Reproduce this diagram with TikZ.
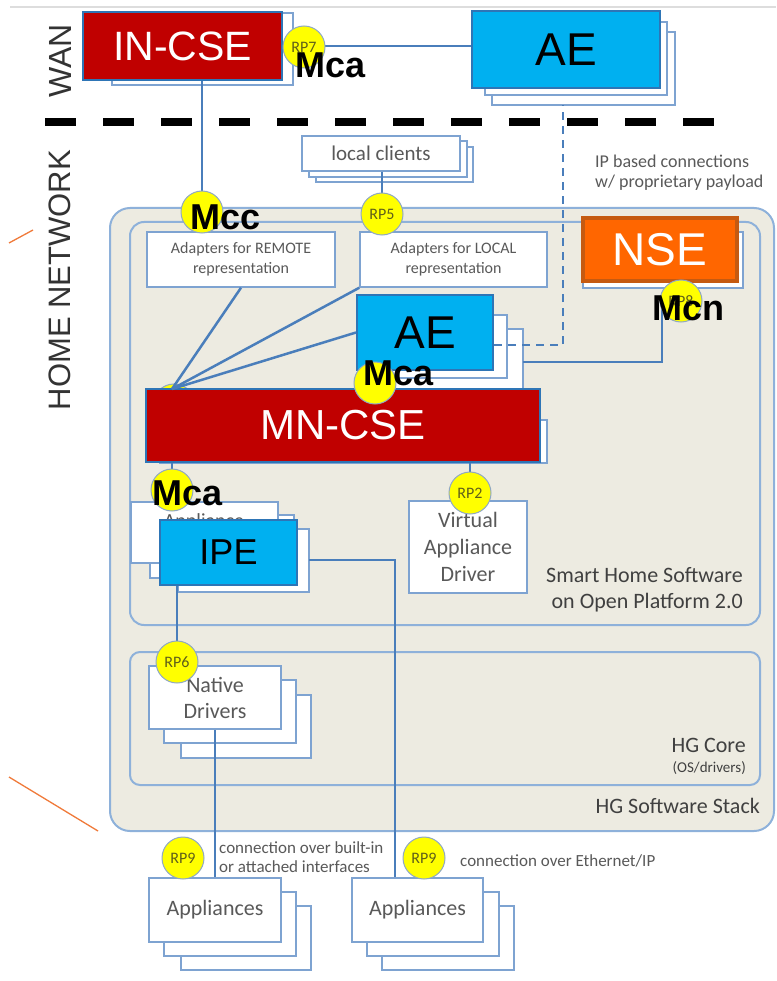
\documentclass[tikz,border=0pt]{standalone}
\usepackage{fontspec}
\setmainfont{Liberation Sans}
\newfontfamily\calib{Carlito}
\usetikzlibrary{calc}
\definecolor{cseRed}{HTML}{C00000}
\definecolor{aeBlue}{HTML}{00B0F0}
\definecolor{edgeBlue}{HTML}{2E75B6}
\definecolor{stackBlue}{HTML}{7EA3D1}
\definecolor{lineBlue}{HTML}{4A7EBB}
\definecolor{frameBlue}{HTML}{8EB1DA}
\definecolor{beige}{HTML}{EDEBE1}
\definecolor{rpYellow}{HTML}{FFFF00}
\definecolor{rpEdge}{HTML}{8FA8C4}
\definecolor{rpText}{HTML}{5F5F1A}
\definecolor{txtGray}{HTML}{595959}
\definecolor{txtDark}{HTML}{404040}
\definecolor{labGray}{HTML}{333333}
\definecolor{nseOrange}{HTML}{FF6600}
\definecolor{nseEdge}{HTML}{C55A11}
\definecolor{orangeLn}{HTML}{F07A3A}
\definecolor{topGray}{HTML}{DDDDDD}
\newcommand\fsz[2]{\fontsize{#1}{#2}\selectfont}
\tikzset{
  conn/.style={draw=lineBlue, line width=2.5pt},
  backbox/.style={draw=stackBlue, fill=white, line width=1.5pt},
  whitebox/.style={draw=stackBlue, fill=white, line width=1.5pt, inner sep=0pt, align=center, text=txtGray},
  redcse/.style={draw=edgeBlue, fill=cseRed, line width=2pt, text=white, inner sep=0pt},
  blueae/.style={draw=edgeBlue, fill=aeBlue, line width=2pt, text=black, inner sep=0pt},
  rpc/.style={circle, draw=rpEdge, fill=rpYellow, line width=1pt, minimum size=42pt, inner sep=0pt, text=rpText, font=\calib\fsz{16}{16}},
  mref/.style={font=\bfseries\fsz{36}{36}, anchor=base west, inner sep=0pt, text=black},
  frame/.style={draw=frameBlue, line width=2pt, fill=beige},
  note/.style={inner sep=0pt, text=txtGray, align=left},
}
\begin{document}
\begin{tikzpicture}[x=1pt,y=-1pt]
\useasboundingbox (0,0) rectangle (776,981);
\fill[white] (0,0) rectangle (776,981);

% top rule and orange marks
\draw[topGray, line width=1.2pt] (10,7) -- (776,7);
\draw[orangeLn, line width=1.3pt] (9,243) -- (33,230);
\draw[orangeLn, line width=1.3pt] (9,777) -- (98,831);

% zone labels
\node[rotate=90, font=\fsz{32}{32}, text=labGray, inner sep=0pt] (wan) at (60,61) {WAN};
\node[rotate=90, font=\fsz{31}{31}, text=labGray, inner sep=0pt] (home) at (60,280) {HOME NETWORK};

% WAN / home boundary
\draw[line width=8pt, dash pattern=on 31pt off 27pt] (45,122) -- (718,122);

% frames
\draw[frame, rounded corners=20pt] (110,208) rectangle (774,831);
\draw[frame, rounded corners=14pt] (130,222) rectangle (760,625);
\draw[frame, rounded corners=10pt] (130,652) rectangle (760,785);
\node[anchor=east, inner sep=0pt, align=right, font=\calib\fsz{22}{26}, text=txtDark] (shs) at (743,590) {Smart Home Software\\on Open Platform 2.0};
\node[anchor=base east, inner sep=0pt, font=\calib\fsz{22}{22}, text=txtDark] (hgcore) at (746,752) {HG Core};
\node[anchor=base east, inner sep=0pt, font=\calib\fsz{15}{15}, text=txtDark] (osdrv) at (746,772) {(OS/drivers)};
\node[anchor=base east, inner sep=0pt, font=\calib\fsz{22}{22}, text=txtDark] (hgss) at (760,813) {HG Software Stack};

% circle centres
\coordinate (c7) at (304,47);
\coordinate (cmcc) at (202,212);
\coordinate (crp5) at (382,214);
\coordinate (crp8) at (681,301);
\coordinate (cmca1) at (375,383);
\coordinate (cmca2) at (172,490);
\coordinate (crp2) at (470,493);
\coordinate (crp6) at (177,662);
\coordinate (conv) at (172,389);
\coordinate (ipbend) at (563,345);
\coordinate (aetopback) at (563,105);
\coordinate (nsebend) at (662,362);
\coordinate (aemidback) at (523,362);
\coordinate (applback) at (309,560);
\coordinate (ipebend) at (395,560);

% hidden reference point behind MN-CSE
\node[rpc] (rphid) at (174,405) {};

% IN-CSE
\draw[backbox] (112,13) rectangle (293,85);
\node[redcse, minimum width=199pt, minimum height=68pt, font=\fsz{41}{41}] (incse) at (182.5,46) {IN-CSE};
% AE (WAN)
\draw[backbox] (492,32) rectangle (675,105);
\draw[backbox] (485,22) rectangle (667,95);
\node[blueae, minimum width=188pt, minimum height=77pt, font=\fsz{46}{46}] (aetop) at (566,49.5) {AE};
% local clients
\draw[backbox] (316,147) rectangle (473,182);
\draw[backbox] (309,141) rectangle (467,177);
\node[whitebox, minimum width=158pt, minimum height=35pt, font=\calib\fsz{21}{21}] (lc) at (381,153.5) {local clients};
% adapters
\node[whitebox, minimum width=188pt, minimum height=55pt, font=\calib\fsz{16}{20}] (adrem) at (241,259.5) {Adapters for REMOTE\\representation};
\node[whitebox, minimum width=187pt, minimum height=55pt, font=\calib\fsz{16}{20}] (adloc) at (453.5,259.5) {Adapters for LOCAL\\representation};
% NSE
\draw[backbox] (583,232) rectangle (743,288);
\node[draw=nseEdge, fill=nseOrange, line width=3.5pt, minimum width=154pt, minimum height=63pt, text=white, font=\fsz{46}{46}, inner sep=0pt] (nse) at (660,249.5) {NSE};
% AE (home)
\draw[backbox] (387,329) rectangle (523,395);
\draw[backbox] (371,315) rectangle (507,378);
\node[blueae, minimum width=136pt, minimum height=75pt, font=\fsz{46}{46}] (aemid) at (425,332.5) {AE};
% MN-CSE
\draw[backbox] (160,420) rectangle (547,463);
\node[redcse, minimum width=394pt, minimum height=73pt, font=\fsz{42}{42}] (mncse) at (343,425.5) {MN-CSE};
% Appliance adapters + IPE
\draw[backbox] (178,529) rectangle (309,592);
\draw[backbox] (150,515) rectangle (294,578);
\node[whitebox, minimum width=147pt, minimum height=61pt] (appl) at (204.5,532.5) {};
\node[anchor=base, inner sep=0pt, font=\calib\fsz{20}{20}, text=txtGray] (appltext) at (204,527) {Appliance};
\node[blueae, minimum width=137pt, minimum height=65pt, font=\fsz{36}{36}] (ipe) at (228.5,552.5) {IPE};
% Virtual appliance driver
\node[whitebox, minimum width=118pt, minimum height=92pt, font=\calib\fsz{22}{27}] (vad) at (468,547) {Virtual\\Appliance\\Driver};
% Native drivers
\draw[backbox] (181,695) rectangle (311,758);
\draw[backbox] (164,680) rectangle (296,743);
\node[whitebox, minimum width=132pt, minimum height=63pt, font=\calib\fsz{22}{26}] (nd) at (215,697.5) {Native\\Drivers};
% Appliances
\draw[backbox] (181,906) rectangle (311,970);
\draw[backbox] (164,892) rectangle (296,956);
\node[whitebox, minimum width=132pt, minimum height=64pt, font=\calib\fsz{22}{22}] (appL) at (215,910) {Appliances};
\draw[backbox] (382,906) rectangle (514,970);
\draw[backbox] (367,892) rectangle (499,956);
\node[whitebox, minimum width=131pt, minimum height=64pt, font=\calib\fsz{22}{22}] (appR) at (417.5,910) {Appliances};

% connectors
\draw[conn] (incse.east) -- (incse.east -| aetop.west);
\draw[conn] (cmcc |- incse.south) -- (cmcc);
\draw[conn] (lc.south -| crp5) -- (crp5);
\draw[conn] (adrem.south) -- (conv);
\draw[conn] (adloc.south west) -- (conv);
\draw[conn] (aemid.west) -- (conv);
\draw[conn] (nsebend |- crp8) -- (nsebend) -- (aemidback);
\draw[conn, dash pattern=on 8pt off 6pt] (aemid.east |- ipbend) -- (ipbend) -- (aetopback);
\draw[conn] (cmca2 |- mncse.south) -- (cmca2);
\draw[conn] (crp2 |- mncse.south) -- (crp2);
\draw[conn] (crp6 |- ipe.south) -- (crp6);
\draw[conn] (applback) -- (ipebend) -- (ipebend |- appR.north);
\draw[conn] (nd.south) -- (nd.south |- appL.north);

% reference points
\node[rpc] (rp7) at (c7) {RP7};
\node[rpc] (mccc) at (cmcc) {};
\node[rpc] (rp5) at (crp5) {RP5};
\node[rpc] (rp8) at (crp8) {RP8};
\node[rpc] (mcamid) at (cmca1) {};
\node[rpc] (mcalow) at (cmca2) {};
\node[rpc] (rp2) at (crp2) {RP2};
\node[rpc] (rp6) at (crp6) {RP6};
\node[rpc] (rp9a) at (183,858) {RP9};
\node[rpc] (rp9b) at (424,858) {RP9};

% oneM2M reference point names
\node[mref] (mca1) at (295,78) {Mca};
\node[mref] (mcc) at (190,230) {Mcc};
\node[mref] (mcn) at (652,320) {Mcn};
\node[mref] (mca2) at (363,385) {Mca};
\node[mref] (mca3) at (152,505) {Mca};

% notes
\node[note, anchor=west, font=\calib\fsz{18}{20}] (ipnote) at (595,173) {IP based connections\\w/ proprietary payload};
\node[note, anchor=west, font=\calib\fsz{17}{19}] (conn1) at (219,857) {connection over built-in\\or attached interfaces};
\node[note, anchor=west, font=\calib\fsz{17}{19}] (conn2) at (460,861) {connection over Ethernet/IP};
\end{tikzpicture}
\end{document}
